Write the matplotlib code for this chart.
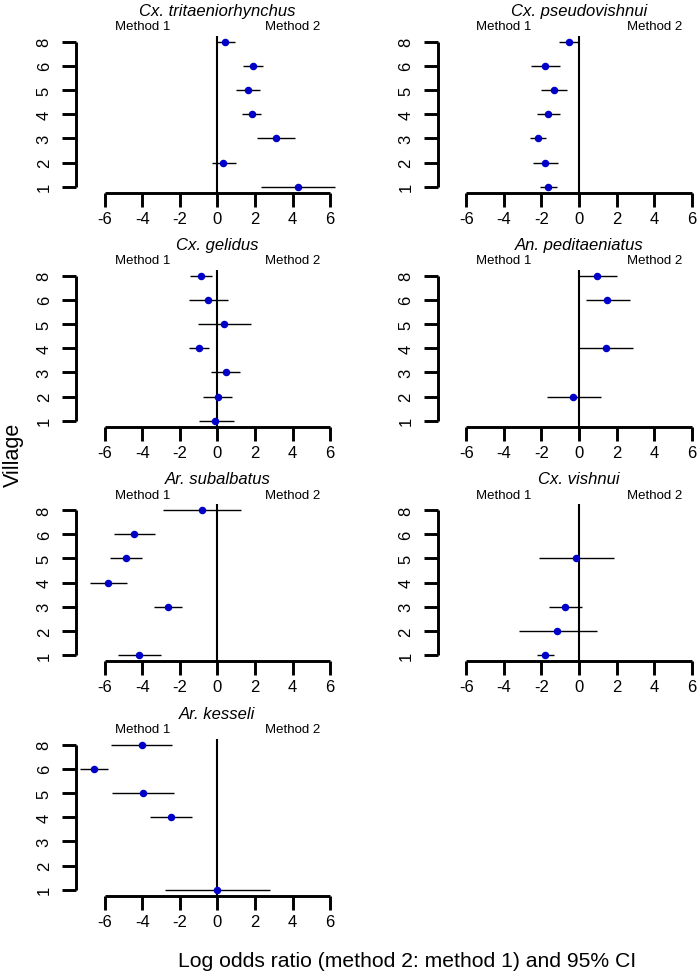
import numpy as np
import matplotlib
matplotlib.use("Agg")
import matplotlib.pyplot as plt
import matplotlib.transforms as mtrans

plt.rcParams['font.family'] = ['Liberation Sans', 'DejaVu Sans']

nan = np.nan
villages = ["1", "2", "3", "4", "5", "6", "8"]
xticks = [-6, -4, -2, 0, 2, 4, 6]

species = ["Cx. tritaeniorhynchus", "Cx. pseudovishnui", "Cx. gelidus",
           "An. peditaeniatus", "Ar. subalbatus", "Cx. vishnui", "Ar. kesseli"]

tri_est = [4.29, 0.32, 3.09, 1.83, 1.61, 1.90, 0.43]
tri_lo = [2.32, -0.28, 2.11, 1.33, 1.01, 1.38, -0.07]
tri_hi = [6.26, 0.99, 4.13, 2.34, 2.25, 2.41, 0.94]

pse_est = [-1.63, -1.79, -2.20, -1.65, -1.35, -1.79, -0.55]
pse_lo = [-2.06, -2.43, -2.59, -2.22, -2.02, -2.56, -1.08]
pse_hi = [-1.19, -1.12, -1.77, -1.01, -0.62, -1.01, 0.0]

gel_est = [-0.11, 0.04, 0.44, -0.99, 0.37, -0.50, -0.85]
gel_lo = [-0.98, -0.74, -0.32, -1.51, -1.01, -1.51, -1.45]
gel_hi = [0.87, 0.80, 1.22, -0.43, 1.81, 0.55, -0.27]

ped_est = [nan, -0.30, nan, 1.42, nan, 1.51, 0.96]
ped_lo = [nan, -1.70, nan, 0.02, nan, 0.37, 0.0]
ped_hi = [nan, 1.15, nan, 2.84, nan, 2.70, 2.00]

sub_est = [-4.17, nan, -2.64, -5.82, -4.86, -4.43, -0.83]
sub_lo = [-5.27, nan, -3.37, -6.77, -5.69, -5.51, -2.89]
sub_hi = [-3.01, nan, -1.90, -4.80, -4.02, -3.33, 1.24]

vis_est = [-1.79, -1.15, -0.73, nan, -0.16, nan, nan]
vis_lo = [-2.25, -3.18, -1.58, nan, -2.13, nan, nan]
vis_hi = [-1.33, 0.94, 0.14, nan, 1.85, nan, nan]

kes_est = [0.0, nan, nan, -2.48, -3.97, -6.58, -4.01]
kes_lo = [-2.77, nan, nan, -3.56, -5.59, -7.30, -5.66]
kes_hi = [2.82, nan, nan, -1.35, -2.32, -5.83, -2.39]

data = [(tri_est, tri_lo, tri_hi), (pse_est, pse_lo, pse_hi),
        (gel_est, gel_lo, gel_hi), (ped_est, ped_lo, ped_hi),
        (sub_est, sub_lo, sub_hi), (vis_est, vis_lo, vis_hi),
        (kes_est, kes_lo, kes_hi)]

W, H = 700, 978
fig = plt.figure(figsize=(W / 100, H / 100), dpi=100)

tops = [36.9, 270.9, 505.2, 739.9]
lefts = [76.0, 437.7]
aw, ah = 264.0, 156.6
pos = np.arange(1, len(villages) + 1)

for i, (name, (est, lo, hi)) in enumerate(zip(species, data)):
    r, c = divmod(i, 2)
    l, t = lefts[c], tops[r]
    ax = fig.add_axes([l / W, 1 - (t + ah) / H, aw / W, ah / H])
    ax.set_xlim(-7.52, 6.52)
    ax.set_ylim(0.76, 7.24)
    est = np.array(est, float); lo = np.array(lo, float); hi = np.array(hi, float)
    ax.axvline(0, color='black', lw=1.5, zorder=1)
    ax.hlines(pos, lo, hi, color='black', lw=1.0, zorder=2)
    ax.plot(est, pos, 'o', color='#0000C8', ms=4.4, zorder=3)
    for s in ['top', 'right']:
        ax.spines[s].set_visible(False)
    ax.spines['left'].set_bounds(1, 7)
    ax.spines['bottom'].set_bounds(-6, 6)
    for s in ['left', 'bottom']:
        ax.spines[s].set_linewidth(2.1)
        ax.spines[s].set_capstyle('butt')
    ax.set_xticks(xticks)
    ax.set_xticklabels([str(v) for v in xticks])
    ax.set_yticks(pos)
    ax.set_yticklabels(villages)
    ax.tick_params(axis='both', direction='out', length=10, width=2.1,
                   labelsize=12, color='black')
    ax.tick_params(axis='x', pad=3)
    ax.tick_params(axis='y', pad=7.5)
    for lab in ax.get_yticklabels():
        lab.set_rotation(90)
        lab.set_va('center')
        lab.set_ha('right')
    ax.patch.set_visible(False)
    trans = mtrans.blended_transform_factory(ax.transData, ax.transAxes)
    ax.text(0, 1 + 25.4 / ah, name, transform=trans, ha='center', va='center',
            fontsize=12, style='italic')
    ax.text(-4, 1 + 9.5 / ah, "Method 1", transform=trans, ha='center',
            va='center', fontsize=9.5)
    ax.text(4, 1 + 9.5 / ah, "Method 2", transform=trans, ha='center',
            va='center', fontsize=9.5)

fig.text(13 / W, 1 - 455 / H, "Village", rotation=90, ha='center', va='center',
         fontsize=15.5)
fig.text(178 / W, 1 - 962 / H, "Log odds ratio (method 2: method 1) and 95% CI",
         ha='left', va='center', fontsize=15.2)

fig.savefig("out.png", dpi=100)
